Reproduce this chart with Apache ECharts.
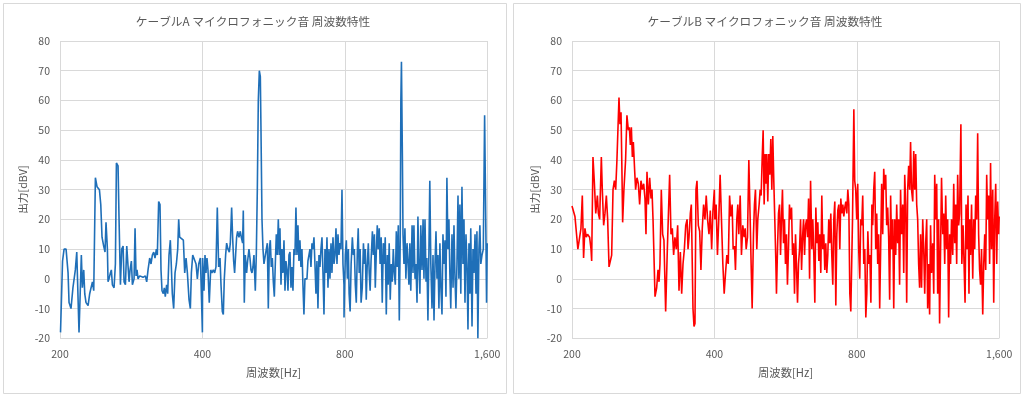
<!DOCTYPE html>
<html><head><meta charset="utf-8">
<script src="https://cdn.jsdelivr.net/npm/echarts@6/dist/echarts.min.js"></script>
<style>html,body{margin:0;padding:0;background:#fff}#c{width:1024px;height:396px}</style>
</head><body><div id="c"></div>
<script>
// ---- data ----
const titles = ['ケーブルA マイクロフォニック音 周波数特性', 'ケーブルB マイクロフォニック音 周波数特性'];
const xName = '周波数[Hz]';
const yName = '出力[dBV]';
const xTicks = [200, 400, 800, 1600];
const yMin = -20, yMax = 80, yStep = 10;

// Cable A: [frequency Hz, level dBV]
const a1 = [[200.5,-18],[202.5,6],[204,10],[206,10],[208,2],[209,-8],[211,-10],[213,-3],[215.5,3],[217,9],[219.4,-18],[221.9,8],[223,-3],[224.5,3],[225.6,-5],[227,-8],[229.3,-9],[231.1,-5],[233,-5],[234.2,-1],[235.7,-4],[237.6,34],[239.5,31],[242.3,30],[243.9,25],[245.4,14],[247.4,11],[249,9],[250.2,19],[251.9,10],[252.7,-1],[253.9,0],[255.6,2],[256.8,3],[258.1,-2],[260.2,-3],[261.9,5],[263.2,39],[265.3,38],[266.6,20],[268.4,-2],[270.1,10],[271.9,11],[273.2,-1],[275,-2],[276.8,11],[278.6,4],[279.9,-1],[281.3,3],[283.1,6],[284.5,-2],[286.8,0],[288.2,17],[289.6,1],[291,3],[292.4,0],[294.8,1],[297.2,0.5],[299.6,0.5],[303,1],[305,-1],[307,3],[309.5,7],[311.5,5],[313.5,8],[315.6,9],[317.6,7],[319.7,10],[321.2,8],[323.3,26],[325.4,25],[327,3],[328.6,-4],[330.7,-5],[332.3,-3],[333.9,-6],[336.1,-2],[337.8,-5],[340,8],[342.2,13],[343.9,4],[345.5,-5],[347.8,-10],[350.1,2],[352.4,5],[354.7,10],[356.4,20],[358.1,14],[361,14],[364.6,13],[367,2],[369.4,7],[371.8,2],[374.8,-7],[377.2,-10],[379.1,2],[381.6,8],[385.3,8],[387.8,5],[390.3,0],[392.9,5],[396.1,7],[398,-5],[400,-18]];
const a2 = [[400.5,7],[403.1,-4],[405.1,8],[407,2],[409,7],[411,3],[413.6,-8],[416.4,3],[419,2],[421.8,3],[424.6,2],[427.3,4],[430.1,24],[432.9,4],[435.8,7],[437.9,-2],[440.7,-11],[442.9,-12],[445,0],[447.9,8],[450.1,12],[453,10],[456,9],[458.2,12],[461.2,24],[463.4,14],[465.7,6],[467.9,2],[470.2,8],[472.5,14],[474.8,16],[477.9,14],[481,16],[483.4,14],[486.5,12],[488.1,23],[490.5,-8],[492.9,8],[496.1,2],[498.5,6],[501.8,10],[504.2,7],[506.7,3],[509.2,2],[511.6,4],[514.1,8],[517.5,-4],[520,8],[522.6,30],[525.1,60],[527.7,70],[530.3,68],[532,50],[534.6,20],[537.2,10],[539.8,5],[543.3,5],[546,10],[548.7,12],[551.3,-10],[554,10],[556.7,13],[559.4,4],[562.2,7],[564.9,-1],[567.7,-6],[570.4,5],[573.2,15],[576,8],[578.8,20],[581.6,8],[583.5,17],[586.4,-2],[589.2,10],[592.1,2],[595,13],[597.9,-4],[600.8,6],[603.7,3],[606.7,-4],[609.6,8],[612.6,9],[615.6,-3],[618.6,4],[621.6,-4],[624.6,10],[627.7,8],[630.7,24],[633.8,8],[636.9,18],[640,6],[643.1,13],[646.2,4],[649.4,10],[652.5,-2],[655.7,-12],[658.9,0],[662.1,0],[665.4,0],[668.6,6],[671.9,8],[675.2,10],[678.5,4],[681.8,12],[685.1,10],[688.5,14],[691.8,5],[695.2,-5],[698.6,6],[702,-10],[705.5,8],[708.9,4],[712.4,10],[715.9,14],[719.4,2],[722.9,-12],[726.4,10],[730,2],[733.5,14],[737.1,-3],[740.7,10],[744.3,0],[748,12],[751.6,2],[755.3,14],[759,5],[762.7,8],[766.4,17],[770.1,5],[773.9,15],[777.7,8],[781.4,12],[785.2,10],[789.1,30],[792.9,5],[796.8,-2]];
const a3 = [[797,-13],[802,8],[806,13],[810,0],[814,10],[817,-5],[821,-11],[825,5],[830,14],[834,8],[838,10],[842,-2],[846,-8],[850,8],[854,17],[858,2],[862,10],[866,-8],[871,-3],[876,12],[880,5],[884,10],[888,-7],[892,4],[897,12],[901,2],[905,-4],[909,6],[915,16],[919,8],[924,15],[928,-3],[933,10],[937,18],[941,10],[946,17],[950,5],[955,14],[960,-8],[965,12],[970,5],[974,14],[979,-12],[984,8],[988,-2],[993,12],[998,-7],[1003,5],[1008,-1],[1013,10],[1018,2],[1023,-2],[1028,16],[1033,4],[1038,18],[1043,-14],[1048,15],[1051,60],[1054,73],[1059,40],[1062,15],[1067,5],[1072,17],[1077,0],[1083,12],[1088,6],[1093,-2],[1098,12],[1103,-4],[1110,18],[1115,2],[1120,18],[1126,0],[1131,5],[1137,-8],[1142,21],[1147,5],[1153,-5],[1158,18],[1165,3],[1171,20],[1176,0],[1182,20],[1188,-1],[1193,7],[1199,-14],[1205,10],[1210,33],[1216,5],[1223,-10],[1229,8],[1235,-14],[1241,5],[1247,16],[1253,0],[1259,8],[1265,-10],[1271,12],[1277,-3],[1284,-12],[1290,15],[1297,5],[1303,13],[1309,-6],[1315,34],[1322,10],[1328,20],[1334,2],[1340,-10],[1348,15],[1355,-3],[1361,18],[1368,0],[1374,-10],[1381,5],[1388,28],[1394,0],[1401,25],[1407,-5],[1415,31],[1422,5],[1429,20],[1436,-8],[1443,15],[1450,5],[1457,-17],[1464,12],[1471,-5],[1477,17],[1486,-16],[1493,10],[1500,2],[1508,15],[1515,-5],[1522,16],[1529,-20],[1537,10],[1544,18],[1551,5],[1560,8],[1570,10],[1580,55],[1585,35],[1590,15],[1595,-8],[1600,12]];

// Cable B: [frequency Hz, level dBV]
const b1 = [[200,24.5],[202.9,21],[204.2,16],[205.8,10],[207.6,14],[208.9,17],[210.3,28],[211.6,7],[213,17],[214.4,14],[215.7,15],[217.9,14],[219.4,10],[220.1,6],[221.5,41],[222.9,33],[224.5,22],[226.3,28],[227.4,22],[228.8,20],[230.7,41],[231.8,30],[233.3,18],[234.8,22],[236.4,28],[237.9,20],[239.5,4],[241,4],[242.6,8],[244.2,30],[245.8,33],[247.4,30],[248.9,40],[250.6,40],[251.4,61],[252.6,52],[253.9,56],[255.1,35],[255.9,19],[257.5,30],[259.6,40],[261.3,55],[263.1,50],[264.4,51],[265.7,45],[267,51],[268.3,41],[269.6,46],[271.4,36],[272.6,30],[274.4,34],[276.2,32],[278,25],[279.8,33],[281.6,30],[283.5,32],[285.3,27],[286.7,15],[288.1,36],[290,25],[291.9,34],[293.8,27],[295.2,30],[296.7,20],[299.6,-6],[302,-3],[304,3],[305.5,-1],[306.9,5],[308.9,30],[310.9,15],[312.9,13],[315.5,-11],[318.1,10],[321.7,35],[323.8,15],[325.9,17],[328,8],[330.1,14],[332.3,10],[334.5,18],[336.7,-4],[338.9,9],[341.1,-5],[343.3,5],[345.6,10],[347.9,18],[350.2,20],[351.8,10],[353.5,14],[355.8,22],[357.5,25],[360.4,-10],[362.2,-16],[363.9,-15],[365.7,30],[367.5,33],[369.9,18],[372.3,16],[374.6,3],[377.1,17],[379.5,25],[382,20],[384.4,28],[386.9,20],[389.6,15],[392.1,23],[394.7,10],[397.2,23],[399.9,30]];
const b2 = [[400.8,20],[403.4,25],[406,8],[408.6,20],[411.3,35],[414,20],[416.8,5],[419.5,-5],[422.3,2],[425,8],[427.9,5],[430.7,28],[433.2,21],[436.1,25],[438.2,10],[441.1,11],[443.2,3],[446.1,20],[448.3,25],[450.5,15],[453.5,28],[456.3,8],[459.3,18],[462.4,14],[464.6,17],[466.9,10],[469.9,14],[473,40],[476.1,20],[478.3,5],[480.7,-10],[483.8,15],[486.1,25],[488.5,30],[491.7,10],[494.1,20],[497.3,25],[499.8,30],[502.2,28],[504.6,40],[507.1,50],[509.6,25],[512,42],[514.5,32],[516.2,42],[518.7,26],[521.2,42],[523.8,35],[526.4,47],[529,30],[531.5,48],[534.1,33],[536.7,20],[539.4,6],[541.1,-5],[543.8,10],[546.5,22],[549.2,25],[551.9,8],[554.4,20],[557.1,30],[559.9,12],[562.6,20],[565.3,5],[568.1,15],[570.8,-2],[573.6,10],[576.4,25],[579.3,20],[582.3,24],[585.1,8],[588,12],[590.8,-5],[593.7,15],[596.6,4],[599.5,-8],[602.4,5],[605.4,10],[608.4,20],[611.4,3],[614.4,14],[617.4,20],[620.4,8],[623.4,18],[626.5,20],[629.5,14],[632.6,27],[635.7,0],[638.8,33],[642.7,10],[645.8,20],[649,8],[652.2,-8],[655.4,24],[658.6,12],[661.8,19],[665,6],[668.2,15],[671.4,2],[674.7,28],[678,10],[681.3,15],[684.6,3],[687.9,12],[691.3,2],[694.7,8],[698,20],[701.5,12],[704.9,22],[708.3,8],[711.8,-2],[715.3,20],[718.8,26],[722.3,-9],[725.8,15],[729.4,23],[733,25],[736.5,10],[740.1,27],[743.7,22],[747.4,25],[751,21],[754.7,24],[758.4,26],[762.1,22],[765.8,30],[769.5,25],[773.3,-5],[777,-11],[783.5,20],[788.6,57]];
const b3 = [[791.9,33],[795.8,30],[799.7,20],[803.6,32],[807.5,10],[811.5,0],[815.5,20],[819.5,18],[823.4,28],[827.6,5],[831.7,10],[835.9,-13],[840,-5],[844.2,16],[848.4,5],[852.6,8],[856.8,-8],[861,25],[864.5,18],[868.7,30],[873,36],[877.2,10],[881.5,22],[885.7,5],[889.9,15],[894.3,-10],[898.5,10],[902.9,32],[907.6,15],[912,37],[916.5,30],[920.9,35],[925.3,18],[929.8,24],[934.2,14],[938.7,-7],[943.2,28],[947.7,10],[952.9,20],[957.6,-10],[962.2,20],[966.8,8],[971.5,25],[976.1,12],[980.7,20],[985.3,-2],[990,30],[994.7,15],[1000.5,25],[1005.3,2],[1010.2,35],[1015,25],[1019.9,-8],[1024.8,30],[1029.7,38],[1034.6,30],[1039.4,46],[1044.3,30],[1050.4,26],[1055.5,43],[1060.6,30],[1065.7,42],[1070.8,25],[1075.9,20],[1081,5],[1086.1,-3],[1091.2,15],[1096.4,-3],[1102.7,20],[1108.1,10],[1113.5,-5],[1118.8,12],[1124.2,20],[1129.5,-10],[1134.9,5],[1140.3,-12],[1145.6,18],[1151,2],[1157.8,12],[1163.4,-5],[1169,35],[1174.6,20],[1180.3,32],[1185.9,-5],[1191.5,20],[1197.1,-15],[1202.8,10],[1208.4,34],[1215.5,15],[1221.4,22],[1227.3,5],[1233.2,28],[1239.1,10],[1245,20],[1251,-13],[1256.9,15],[1262.8,5],[1268.7,20],[1276.1,8],[1282.3,32],[1288.5,12],[1294.7,25],[1300.9,5],[1307.1,35],[1313.3,18],[1319.5,22],[1327.8,52],[1334,5],[1342,18],[1348.5,5],[1355,-8],[1361.5,25],[1368.1,10],[1374.6,28],[1381.1,-5],[1385.5,20],[1392,8],[1398.5,25],[1406.6,0],[1413.4,20],[1420.3,10],[1427.1,28],[1434,20],[1440.8,49],[1447.6,15],[1454.5,3],[1461.3,-2],[1468.2,10],[1476.8,-12],[1484,5],[1491.2,15],[1498.3,3],[1505.5,35],[1512.7,20],[1519.9,28],[1527.1,5],[1534.2,39],[1541.4,10],[1550.4,30],[1557.9,-8],[1565.5,20],[1573,32],[1580.5,5],[1588.1,26],[1595.6,15],[1600,21]];

const seriesColors = ['#1f6fb8', '#ff0000'];

// ---- chart ----
const font = "'Noto Sans CJK JP','Noto Sans',sans-serif";
const grey = '#595959';
const gridLine = '#d9d9d9';
const grids = [
  {left: 60, top: 41, width: 427.2, height: 297.3},
  {left: 572, top: 41, width: 427.2, height: 297.3}
];
function xAxisFor(i) {
  return {
    gridIndex: i, type: 'log', logBase: 2,
    min: xTicks[0], max: xTicks[xTicks.length - 1],
    interval: 1.0000001, // one octave per tick (log2 space)
    name: xName, nameLocation: 'middle', nameGap: 29,
    nameTextStyle: {color: grey, fontSize: 11.3, fontFamily: font},
    axisLine: {show: false}, axisTick: {show: false},
    minorTick: {show: false}, minorSplitLine: {show: false},
    axisLabel: {color: grey, fontSize: 10.5, fontFamily: font, margin: 10,
      formatter: v => Math.round(v).toLocaleString('en-US')},
    splitLine: {show: true, lineStyle: {color: gridLine, width: 1}}
  };
}
function yAxisFor(i) {
  return {
    gridIndex: i, type: 'value', min: yMin, max: yMax, interval: yStep,
    name: yName, nameLocation: 'middle', nameGap: 32, nameRotate: 90,
    nameTextStyle: {color: grey, fontSize: 10.7, fontFamily: font},
    axisLine: {show: false}, axisTick: {show: false},
    axisLabel: {color: grey, fontSize: 10.5, fontFamily: font, margin: 10},
    splitLine: {show: true, lineStyle: {color: gridLine, width: 1}}
  };
}
const chart = echarts.init(document.getElementById('c'), null, {renderer: 'canvas'});
chart.setOption({
  animation: false,
  backgroundColor: '#ffffff',
  title: [
    {text: titles[0], left: 253, top: 16, textAlign: 'center', padding: 0,
     textStyle: {fontSize: 11.7, fontWeight: 'normal', color: grey, fontFamily: font}},
    {text: titles[1], left: 765, top: 16, textAlign: 'center', padding: 0,
     textStyle: {fontSize: 11.7, fontWeight: 'normal', color: grey, fontFamily: font}}
  ],
  graphic: [
    {type: 'rect', silent: true, shape: {x: 3.5, y: 3.5, width: 503, height: 390}, style: {fill: 'none', stroke: gridLine, lineWidth: 1}},
    {type: 'rect', silent: true, shape: {x: 513.5, y: 3.5, width: 507, height: 390}, style: {fill: 'none', stroke: gridLine, lineWidth: 1}}
  ],
  grid: grids,
  xAxis: [xAxisFor(0), xAxisFor(1)],
  yAxis: [yAxisFor(0), yAxisFor(1)],
  series: [
    {type: 'line', xAxisIndex: 0, yAxisIndex: 0, data: a1.concat(a2, a3), showSymbol: false,
     lineStyle: {color: seriesColors[0], width: 1.6}, itemStyle: {color: seriesColors[0]}},
    {type: 'line', xAxisIndex: 1, yAxisIndex: 1, data: b1.concat(b2, b3), showSymbol: false,
     lineStyle: {color: seriesColors[1], width: 1.6}, itemStyle: {color: seriesColors[1]}}
  ]
});
</script></body></html>
